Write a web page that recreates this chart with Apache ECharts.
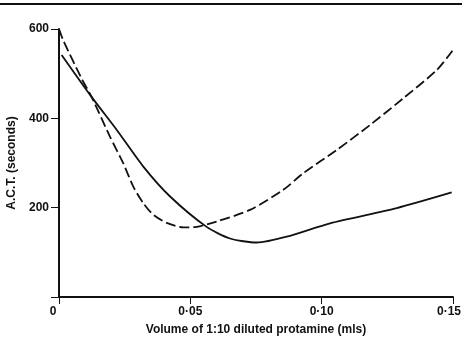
<!DOCTYPE html>
<html>
<head>
<meta charset="utf-8">
<script src="https://cdn.jsdelivr.net/npm/echarts@6/dist/echarts.min.js"></script>
<style>
  html, body { margin: 0; padding: 0; background: #fff; }
  #chart { width: 462px; height: 345px; }
</style>
</head>
<body>
<div id="chart"></div>
<script>
// solid curve
const solidX = [0.0010, 0.0124, 0.0220, 0.0321, 0.0423, 0.0562, 0.0651, 0.0753, 0.0867, 0.1032, 0.1286, 0.1495];
const solidY = [542, 448, 374, 292, 225, 157, 131, 122, 135, 165, 199, 234];

// dashed curve
const dashX = [0, 0.0016, 0.0086, 0.0124, 0.0194, 0.0245, 0.0283, 0.0321, 0.0359, 0.0410, 0.0473, 0.0524, 0.0600, 0.0727, 0.0854, 0.0930, 0.1057, 0.1184, 0.1311, 0.1438, 0.1500];
const dashY = [600, 575, 489, 448, 359, 299, 247, 210, 184, 166, 156, 157, 169, 195, 240, 277, 329, 385, 445, 508, 553];

const xTicks = [0, 0.05, 0.10, 0.15];
const xTickLabels = ['0', '0·05', '0·10', '0·15'];
const yTicks = [200, 400, 600];

const zip = (xs, ys) => xs.map((x, i) => [x, ys[i]]);

const tickFont = {
    color: '#111',
    fontFamily: 'Liberation Sans Narrow, Arial Narrow, sans-serif',
    fontWeight: 'bold',
    fontSize: 12
};

const chart = echarts.init(document.getElementById('chart'));
chart.setOption({
    animation: false,
    backgroundColor: '#fff',
    grid: { left: 59, right: 9, top: 29, bottom: 48, containLabel: false, outerBoundsMode: 'none' },
    graphic: [
        {
            type: 'line',
            shape: { x1: 0, y1: 4, x2: 462, y2: 4 },
            style: { stroke: '#111', lineWidth: 2 }
        }
    ],
    xAxis: {
        type: 'value',
        min: 0,
        max: 0.15,
        interval: 0.05,
        name: 'Volume of 1:10 diluted protamine (mls)',
        nameLocation: 'middle',
        nameGap: 27,
        nameTextStyle: {
            color: '#111',
            fontFamily: 'Liberation Sans, Arial, sans-serif',
            fontWeight: 'bold',
            fontSize: 12
        },
        axisLine: { lineStyle: { color: '#111', width: 2 } },
        axisTick: { show: true, inside: false, length: 7, lineStyle: { color: '#111', width: 1 } },
        axisLabel: Object.assign({}, tickFont, {
            margin: 9,
            formatter: v => {
                const i = xTicks.findIndex(t => Math.abs(t - v) < 1e-9);
                if (i < 0) return '';
                if (i === 0) return '{z|0}';
                if (i === xTicks.length - 1) return '{e|' + xTickLabels[i] + '}';
                return xTickLabels[i];
            },
            rich: {
                z: Object.assign({}, tickFont, { padding: [0, 12, 0, 0] }),
                e: Object.assign({}, tickFont, { padding: [0, 8, 0, 0] })
            }
        }),
        splitLine: { show: false }
    },
    yAxis: {
        type: 'value',
        min: 0,
        max: 600,
        interval: 200,
        name: 'A.C.T. (seconds)',
        nameLocation: 'middle',
        nameGap: 40,
        nameRotate: 90,
        nameTextStyle: {
            color: '#111',
            fontFamily: 'Liberation Sans, Arial, sans-serif',
            fontWeight: 'bold',
            fontSize: 12
        },
        axisLine: { show: true, lineStyle: { color: '#111', width: 2 } },
        axisTick: { show: true, inside: false, length: 8, lineStyle: { color: '#111', width: 1 } },
        axisLabel: Object.assign({}, tickFont, {
            margin: 10,
            formatter: v => (yTicks.indexOf(v) >= 0 ? String(v) : '')
        }),
        splitLine: { show: false }
    },
    series: [
        {
            type: 'line',
            data: zip(solidX, solidY),
            smooth: 0.25,
            symbol: 'none',
            lineStyle: { color: '#111', width: 1.8, type: 'solid' }
        },
        {
            type: 'line',
            data: zip(dashX, dashY),
            smooth: 0.25,
            symbol: 'none',
            lineStyle: { color: '#111', width: 1.8, type: [10, 4] }
        }
    ]
});
</script>
</body>
</html>
